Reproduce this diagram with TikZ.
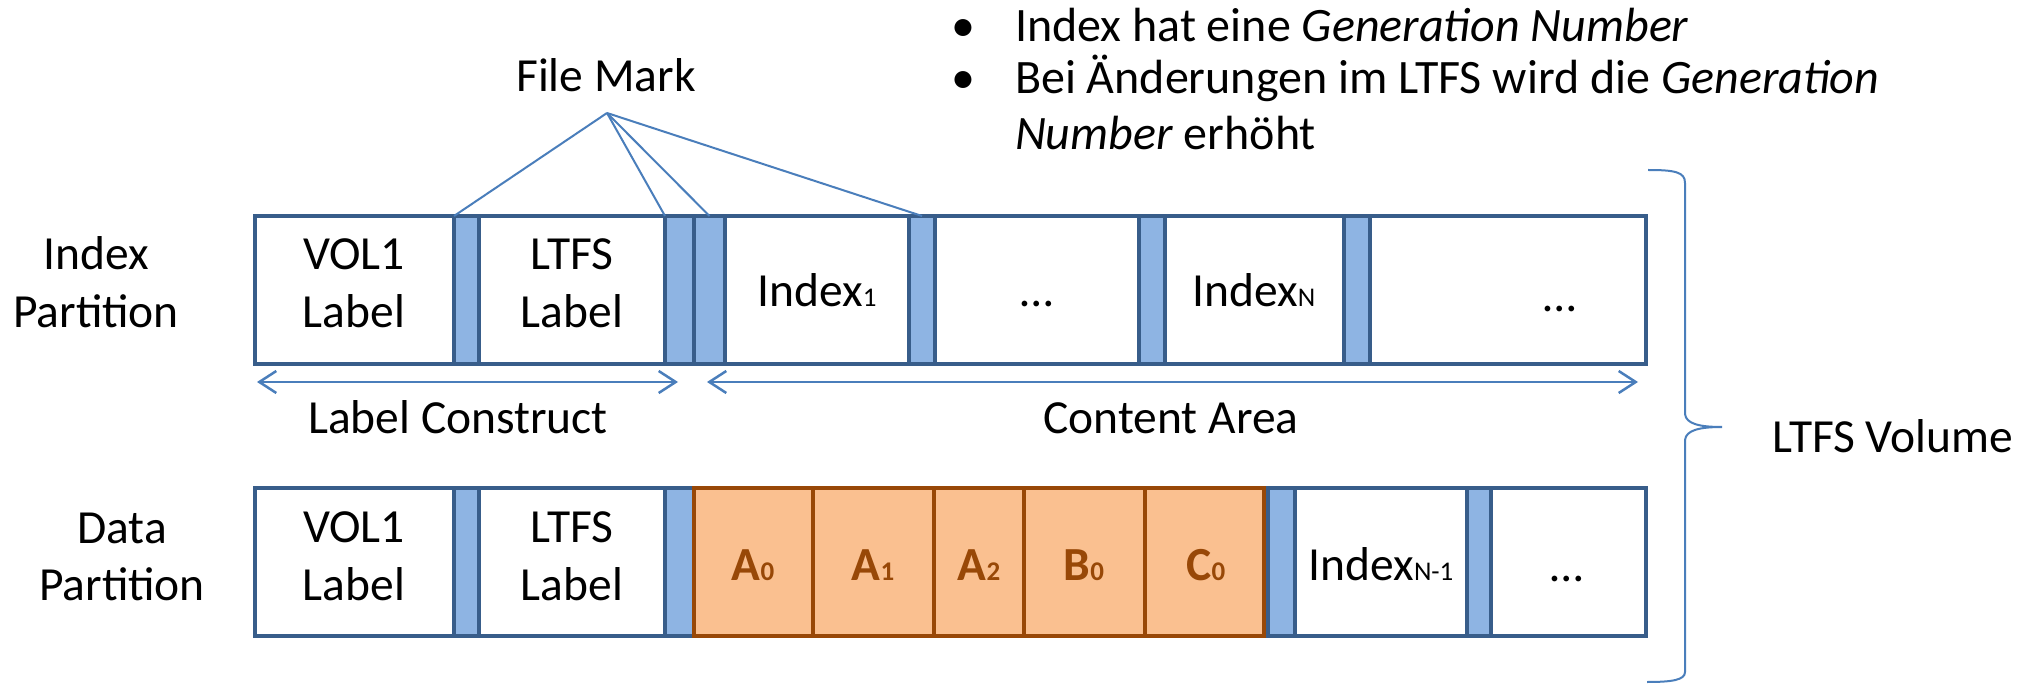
\documentclass[tikz,border=0pt]{standalone}
\usepackage{fontspec}
\setmainfont{Carlito}
\usetikzlibrary{arrows.meta}
\definecolor{boxblue}{HTML}{385D8A}
\definecolor{markfill}{HTML}{8EB4E3}
\definecolor{datfill}{HTML}{FAC090}
\definecolor{datline}{HTML}{984807}
\definecolor{thinblue}{HTML}{4A7EBB}
\newcommand\mainsz{\fontsize{47.5}{57}\selectfont}
\newcommand\bulsz{\fontsize{48}{57}\selectfont}
\newcommand\subsz{\fontsize{27}{27}\selectfont}
\begin{document}
\begin{tikzpicture}[x=1pt,y=-1pt,
  seg/.style={draw=boxblue, line width=4.5pt, fill=white, minimum height=148pt, inner sep=0pt, outer sep=0pt, anchor=west},
  fmark/.style={seg, fill=markfill},
  datbox/.style={seg, draw=datline, fill=datfill},
  txt/.style={font=\mainsz, anchor=base, inner sep=0pt, outer sep=0pt},
  bultxt/.style={txt, font=\bulsz},
  dattxt/.style={txt, text=datline, font=\mainsz\bfseries},
  conn/.style={draw=thinblue, line width=2pt},
  span/.style={draw=thinblue, line width=2.5pt, {Straight Barb[length=17pt,width=22pt]}-{Straight Barb[length=17pt,width=22pt]}},
]
\useasboundingbox (0,0) rectangle (2032,684);
\fill[white] (0,0) rectangle (2032,684);

% bullets
\node[bultxt] (b1) at (963,42) {•};
\node[bultxt, anchor=base west] (l1) at (1015,42) {Index hat eine \textit{Generation Number}};
\node[bultxt] (b2) at (963,94) {•};
\node[bultxt, anchor=base west] (l2) at (1015,94) {Bei Änderungen im LTFS wird die \textit{Generation}};
\node[bultxt, anchor=base west] (l3) at (1015,150) {\textit{Number} erhöht};

% file mark label
\node[txt] (fmlabel) at (606,92) {File Mark};
\coordinate (apex) at (607,113);

% top row (Index Partition)
\node[seg, minimum width=199pt] (tvol) at (255,290) {};
\node[fmark, minimum width=25pt] (tm1) at (454,290) {};
\node[seg, minimum width=186pt] (tltfs) at (479,290) {};
\node[fmark, minimum width=29pt] (tm2) at (665,290) {};
\node[fmark, minimum width=31pt] (tm3) at (694,290) {};
\node[seg, minimum width=184pt] (tidx1) at (725,290) {};
\node[fmark, minimum width=26pt] (tm4) at (909,290) {};
\node[seg, minimum width=204pt] (tdots1) at (935,290) {};
\node[fmark, minimum width=26pt] (tm5) at (1139,290) {};
\node[seg, minimum width=179pt] (tidxn) at (1165,290) {};
\node[fmark, minimum width=26pt] (tm6) at (1344,290) {};
\node[seg, minimum width=276pt] (tdots2) at (1370,290) {};

\node[txt] (tvolA) at (354,270) {VOL1};
\node[txt] (tvolB) at (354,328) {Label};
\node[txt] (tltA) at (572,270) {LTFS};
\node[txt] (tltB) at (572,328) {Label};
\node[txt] (tidx1t) at (817,307) {Index{\subsz 1}};
\node[txt] (tdots1t) at (1037,307) {…};
\node[txt] (tidxnt) at (1254,307) {Index{\subsz N}};
\node[txt] (tdots2t) at (1560,312) {…};

% file mark connectors
\draw[conn] (apex) -- (tm1.north west);
\draw[conn] (apex) -- (tm2.north west);
\draw[conn] (apex) -- (tm3.north);
\draw[conn] (apex) -- (tm4.north);

% bottom row (Data Partition)
\node[seg, minimum width=199pt] (bvol) at (255,562) {};
\node[fmark, minimum width=25pt] (bm1) at (454,562) {};
\node[seg, minimum width=186pt] (bltfs) at (479,562) {};
\node[fmark, minimum width=29pt] (bm2) at (665,562) {};
\node[datbox, minimum width=119pt] (a0) at (694,562) {};
\node[datbox, minimum width=121pt] (a1) at (813,562) {};
\node[datbox, minimum width=90pt] (a2) at (934,562) {};
\node[datbox, minimum width=121pt] (b0) at (1024,562) {};
\node[datbox, minimum width=119pt] (c0) at (1145,562) {};
\node[fmark, minimum width=27pt] (bm3) at (1268,562) {};
\node[seg, minimum width=172pt] (bidx) at (1295,562) {};
\node[fmark, minimum width=24pt] (bm4) at (1467,562) {};
\node[seg, minimum width=155pt] (bdots) at (1491,562) {};

\node[txt] (bvolA) at (354,542) {VOL1};
\node[txt] (bvolB) at (354,600) {Label};
\node[txt] (bltA) at (572,542) {LTFS};
\node[txt] (bltB) at (572,600) {Label};
\node[dattxt] (a0t) at (753,580) {A{\subsz 0}};
\node[dattxt] (a1t) at (873,580) {A{\subsz 1}};
\node[dattxt] (a2t) at (979,580) {A{\subsz 2}};
\node[dattxt] (b0t) at (1084,580) {B{\subsz 0}};
\node[dattxt] (c0t) at (1206,580) {C{\subsz 0}};
\node[txt] (bidxt) at (1381,580) {Index{\subsz N-1}};
\node[txt] (bdotst) at (1567,581) {…};

% row labels
\node[txt] (ipA) at (96,270) {Index};
\node[txt] (ipB) at (96,328) {Partition};
\node[txt] (dpA) at (122,543) {Data};
\node[txt] (dpB) at (122,600) {Partition};

% span arrows
\coordinate (lcL) at (257,382);
\coordinate (lcR) at (678,382);
\coordinate (caL) at (707,382);
\coordinate (caR) at (1638,382);
\draw[span] (lcL) -- (lcR);
\draw[span] (caL) -- (caR);
\node[txt] (lctext) at (458,433) {Label Construct};
\node[txt] (catext) at (1171,433) {Content Area};

% brace
\draw[conn] (1648,170) .. controls (1675,170) and (1685,172) .. (1685,183)
  -- (1685,414) .. controls (1686,424) and (1700,427) .. (1722,427)
  .. controls (1700,427) and (1686,430) .. (1685,440)
  -- (1685,672) .. controls (1685,680) and (1672,682) .. (1647,682);
\node[txt] (vol) at (1893,452) {LTFS Volume};
\end{tikzpicture}
\end{document}
